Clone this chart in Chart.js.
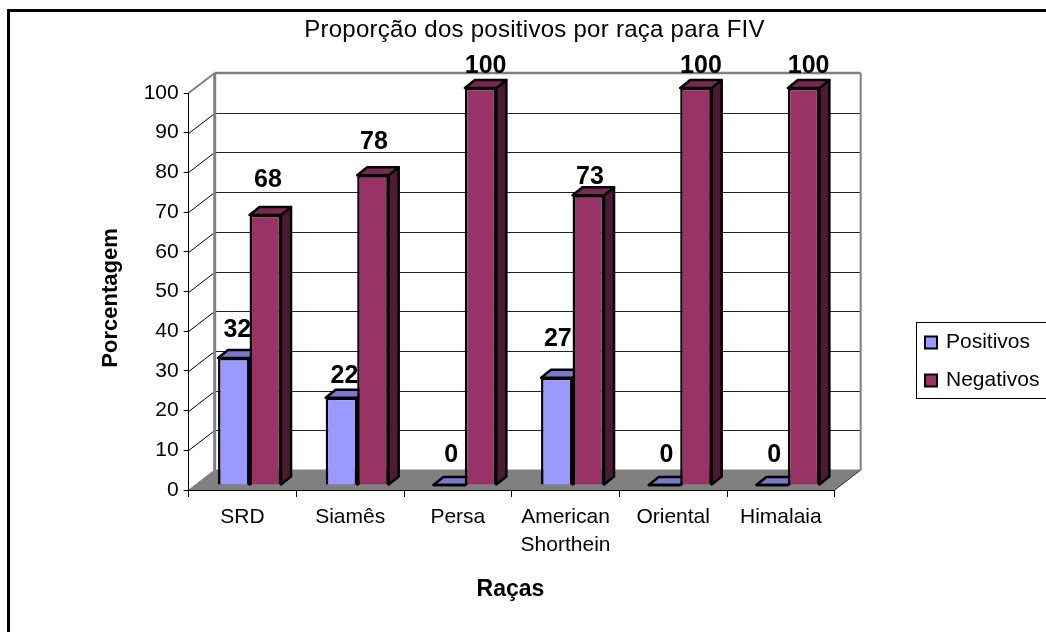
<!DOCTYPE html>
<html>
<head>
<meta charset="utf-8">
<title>Proporção dos positivos por raça para FIV</title>
<script src="https://cdn.jsdelivr.net/npm/chart.js@4"></script>
<style>
  html, body { margin: 0; background: #fff; }
  canvas { display: block; }
</style>
</head>
<body>
<canvas id="chart" width="1046" height="632"></canvas>
<script>
const racas = ['SRD', 'Siamês', 'Persa', ['American', 'Shorthein'], 'Oriental', 'Himalaia'];
const positivos = [32, 22, 0, 27, 0, 0];
const negativos = [68, 78, 100, 73, 100, 100];
const yTicks = [0, 10, 20, 30, 40, 50, 60, 70, 80, 90, 100];

// hand placed value labels in the original, offset from the top of each bar
const labelOffsets = [
    [[3.5, -27.5], [3, -22], [2, -30], [1, -38.7], [2, -30], [2, -30]],
    [[2.6, -34.5], [1, -33], [5, -21.5], [1.7, -18.5], [5, -21.5], [5, -21.5]]
];

const FONT = '"Liberation Sans", Arial, sans-serif';
const WALL = { x: 26, y: -20 };   // depth of the back wall
const BAR_SHIFT = { x: 7, y: -5 };   // bars stand in the middle of the floor
const BAR_DEPTH = { x: 10, y: -8 };
const sideColors = ['#4c4c80', '#4d1a33'];
const topColors = ['#7a7acc', '#7a2952'];

Chart.defaults.font.family = FONT;
Chart.defaults.color = '#000';

function poly(ctx, pts, fill) {
    ctx.beginPath();
    pts.forEach((p, i) => i ? ctx.lineTo(p[0], p[1]) : ctx.moveTo(p[0], p[1]));
    ctx.closePath();
    ctx.fillStyle = fill;
    ctx.fill();
    ctx.stroke();
}

function line(ctx, x1, y1, x2, y2, color, width) {
    ctx.strokeStyle = color;
    ctx.lineWidth = width;
    ctx.beginPath();
    ctx.moveTo(x1, y1);
    ctx.lineTo(x2, y2);
    ctx.stroke();
}

function text(ctx, str, x, y, font, align) {
    ctx.font = font;
    ctx.fillStyle = '#000';
    ctx.textAlign = align || 'center';
    ctx.textBaseline = 'middle';
    ctx.fillText(str, x, y);
}

const scene3d = {
    id: 'scene3d',
    beforeDraw(chart) {
        const { ctx, chartArea: a, scales: { y } } = chart;
        ctx.save();
        ctx.fillStyle = '#fff';
        ctx.fillRect(0, 0, chart.width, chart.height);

        // outer frame, runs off the right and bottom of the picture
        ctx.strokeStyle = '#000';
        ctx.lineWidth = 3;
        ctx.strokeRect(8.5, 10.5, 1200, 800);

        // floor
        ctx.strokeStyle = '#808080';
        ctx.lineWidth = 1;
        poly(ctx, [[a.left, a.bottom], [a.right, a.bottom], [a.right + WALL.x, a.bottom + WALL.y], [a.left + WALL.x, a.bottom + WALL.y]], '#808080');
        line(ctx, a.right, a.bottom, a.right + WALL.x, a.bottom + WALL.y, '#404040', 1);

        // gridlines on the back wall and the side wall
        yTicks.slice(1, -1).forEach(v => {
            const py = Math.round(y.getPixelForValue(v)) + 0.5;
            line(ctx, a.left, py, a.left + WALL.x, py + WALL.y, '#000', 1);
            line(ctx, a.left + WALL.x, py + WALL.y, a.right + WALL.x, py + WALL.y, '#222', 1.2);
        });

        // wall outline
        const top = a.top + WALL.y;
        const bottom = a.bottom + WALL.y;
        line(ctx, a.left, a.top, a.left + WALL.x, top, '#808080', 2);
        line(ctx, a.left + WALL.x, top, a.right + WALL.x, top, '#808080', 2.5);
        line(ctx, a.left + WALL.x, top, a.left + WALL.x, bottom, '#808080', 3);
        line(ctx, a.right + WALL.x, top, a.right + WALL.x, bottom, '#808080', 2);
        ctx.restore();
    },
    // blue first, so the red bars cover its labels as in the original
    beforeDatasetsDraw(chart) {
        const { ctx } = chart;
        const d = BAR_DEPTH;
        chart.data.datasets.forEach((ds, index) => {
            const meta = chart.getDatasetMeta(index);
            ctx.save();
            ctx.translate(BAR_SHIFT.x, BAR_SHIFT.y);
            ctx.lineJoin = 'round';
            meta.data.forEach(bar => {
                const l = bar.x - bar.width / 2;
                const r = bar.x + bar.width / 2;
                ctx.strokeStyle = '#000';
                ctx.lineWidth = 2.5;
                poly(ctx, [[r, bar.y], [r + d.x, bar.y + d.y], [r + d.x, bar.base + d.y], [r, bar.base]], sideColors[index]);
                poly(ctx, [[l, bar.y], [l + d.x, bar.y + d.y], [r + d.x, bar.y + d.y], [r, bar.y]], topColors[index]);
                if (bar.y === bar.base) line(ctx, l, bar.y, r, bar.y, '#000', 2.5);
            });
            meta.controller.draw();
            meta.data.forEach((bar, i) => {
                const off = labelOffsets[index][i];
                text(ctx, String(ds.data[i]), bar.x + off[0], bar.y + off[1], 'bold 25px ' + FONT);
            });
            ctx.restore();
        });
        return false;
    },
    afterDraw(chart) {
        const { ctx, data: { datasets } } = chart;
        ctx.save();
        ctx.letterSpacing = '0.27px';
        text(ctx, 'Proporção dos positivos por raça para FIV', 534.5, 30.5, '24px ' + FONT);
        ctx.letterSpacing = '0px';
        text(ctx, 'Raças', 510.5, 590, 'bold 23px ' + FONT);
        ctx.translate(111, 298);
        ctx.rotate(-Math.PI / 2);
        text(ctx, 'Porcentagem', 0, 0, 'bold 22px ' + FONT);
        ctx.setTransform(1, 0, 0, 1, 0, 0);

        // legend
        ctx.strokeStyle = '#000';
        ctx.lineWidth = 1;
        ctx.strokeRect(916.5, 322.5, 200, 76);
        ctx.lineWidth = 2;
        datasets.forEach((ds, i) => {
            const cy = 342.5 + i * 38;
            ctx.fillStyle = ds.backgroundColor;
            ctx.fillRect(925, cy - 6, 12, 12);
            ctx.strokeRect(925, cy - 6, 12, 12);
            text(ctx, ds.label, 946, cy, '21px ' + FONT, 'left');
        });
        ctx.restore();
    }
};

new Chart(document.getElementById('chart'), {
    type: 'bar',
    data: {
        labels: racas,
        datasets: [
            { label: 'Positivos', data: positivos, backgroundColor: '#9999ff' },
            { label: 'Negativos', data: negativos, backgroundColor: '#993366' }
        ]
    },
    options: {
        responsive: false,
        animation: false,
        layout: { padding: { left: 0, top: 93, right: 211.3, bottom: 0 } },
        datasets: {
            bar: {
                clip: false,
                borderColor: '#000',
                borderWidth: 2.5,
                barPercentage: 1,
                categoryPercentage: 0.585
            }
        },
        plugins: {
            legend: { display: false },
            title: { display: false },
            tooltip: { enabled: false }
        },
        scales: {
            x: {
                afterFit: s => { s.height = 142; },
                grid: { drawOnChartArea: false, tickLength: 7, tickColor: '#000', tickWidth: 1 },
                border: { color: '#000', width: 1 },
                ticks: { font: { size: 21, lineHeight: 1.35 }, padding: 6, maxRotation: 0, autoSkip: false }
            },
            y: {
                min: 0,
                max: 100,
                afterFit: s => { s.width = 188.7; },
                afterBuildTicks: s => { s.ticks = yTicks.map(v => ({ value: v })); },
                grid: { drawOnChartArea: false, tickLength: 5, tickColor: '#000', tickWidth: 1 },
                border: { color: '#000', width: 1 },
                ticks: { font: { size: 21 }, padding: 5 }
            }
        }
    },
    plugins: [scene3d]
});
</script>
</body>
</html>
